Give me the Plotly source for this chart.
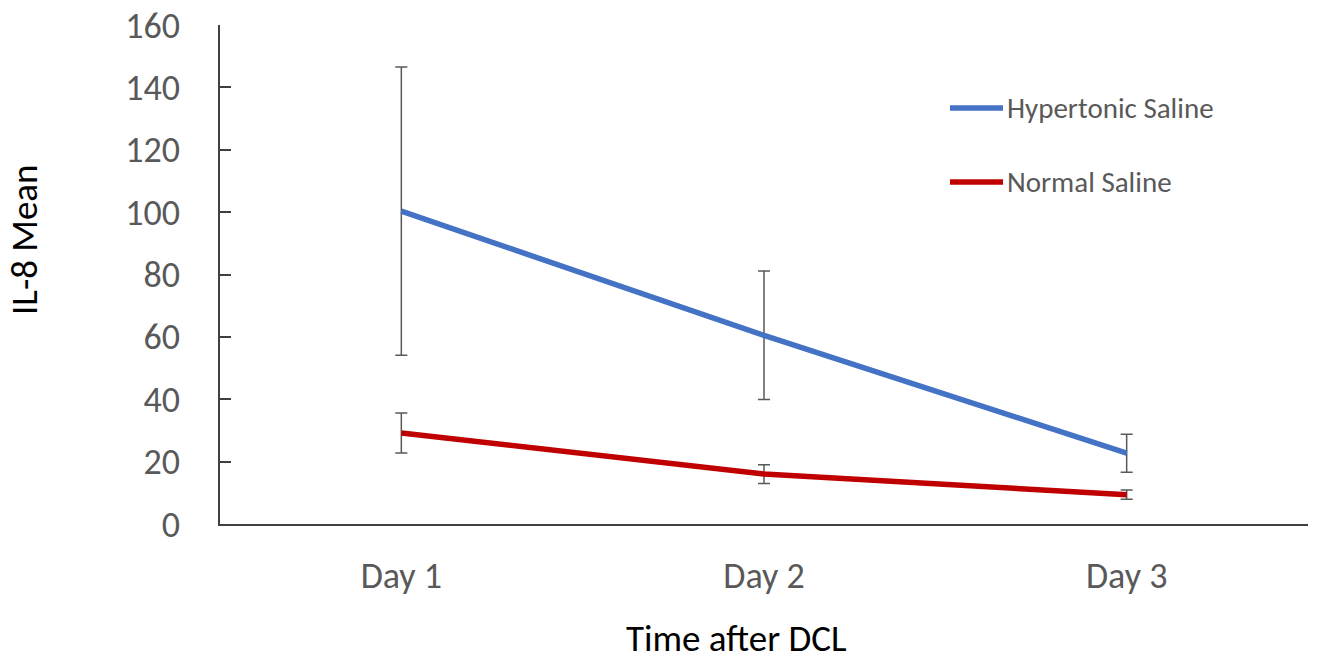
import plotly.graph_objects as go

days = ["Day 1", "Day 2", "Day 3"]
hypertonic = [100.3, 60.5, 22.7]
hypertonic_err = [46.2, 20.6, 6.1]
normal = [29.2, 16.0, 9.4]
normal_err = [6.4, 3.0, 1.5]
series_names = ["Hypertonic Saline", "Normal Saline"]
colors = ["#4472C4", "#C00000"]
FONT = "Carlito, Calibri, Lato, sans-serif"

W, H = 1317, 660
L, R, T, B = 220, 9, 25, 136
PW, PH = W - L - R, H - T - B


def px(x):
    return (x - L) / PW


def py(y):
    return (H - B - y) / PH


fig = go.Figure()
for name, vals, errs, col in [(series_names[0], hypertonic, hypertonic_err, colors[0]),
                              (series_names[1], normal, normal_err, colors[1])]:
    fig.add_trace(go.Scatter(
        x=days, y=vals, mode="lines", name=name,
        line=dict(color=col, width=5.5),
        error_y=dict(type="data", array=errs, visible=True, color="#595959",
                     thickness=1.5, width=6),
        showlegend=False,
    ))

# Manual legend
leg_y = [108, 182]
for name, col, yy in zip(series_names, colors, leg_y):
    fig.add_shape(type="line", xref="paper", yref="paper",
                  x0=px(950), x1=px(1003), y0=py(yy), y1=py(yy),
                  line=dict(color=col, width=5.5))
    fig.add_annotation(xref="paper", yref="paper", x=px(1005), y=py(yy), text=name,
                       showarrow=False, xanchor="left", yanchor="middle",
                       font=dict(family=FONT, size=29, color="#595959"))

fig.add_annotation(xref="paper", yref="paper", x=px(736), y=py(638),
                   text="Time after DCL", showarrow=False, borderpad=0,
                   xanchor="center", yanchor="middle",
                   font=dict(family=FONT, size=37, color="#000000"))
fig.add_annotation(xref="paper", yref="paper", x=px(24), y=py(240),
                   text="IL-8 Mean", showarrow=False, textangle=-90, borderpad=0,
                   xanchor="center", yanchor="middle",
                   font=dict(family=FONT, size=37, color="#000000"))

fig.update_layout(
    width=W, height=H,
    margin=dict(l=L, r=R, t=T, b=B, autoexpand=False),
    paper_bgcolor="white", plot_bgcolor="white",
    font=dict(family=FONT, color="#595959"),
)
fig.update_xaxes(
    type="category", range=[-0.5, 2.5], showgrid=False, showline=True,
    linecolor="#404040", linewidth=1.5, ticks="", tickfont=dict(size=36, color="#595959"),
    ticklabelstandoff=19, automargin=False,
)
fig.update_yaxes(
    range=[0, 160], dtick=20, showgrid=False, showline=True, zeroline=False,
    linecolor="#404040", linewidth=1.5, ticks="inside", ticklen=11, tickwidth=1.5,
    tickcolor="#404040", tickfont=dict(size=36, color="#595959"),
    ticklabelstandoff=31, ticklabeloverflow="allow", automargin=False,
)

fig.write_html(
    "out.html",
    config={"displayModeBar": False},
    post_script="document.body.style.margin='0';document.body.style.padding='0';",
)
